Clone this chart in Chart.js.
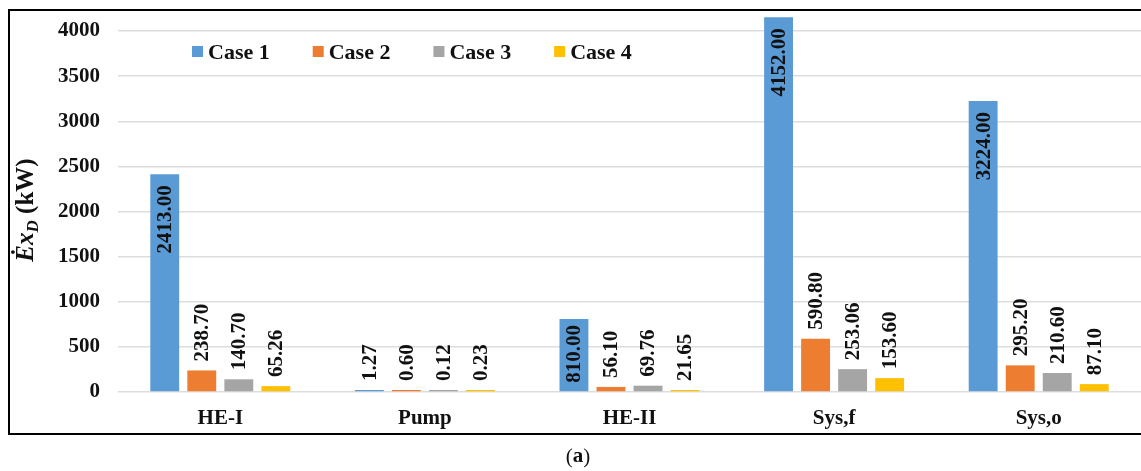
<!DOCTYPE html>
<html>
<head>
    <style>
        body { margin: 0; background: #fff; }
        canvas { display: block; }
    </style>
    <script src="https://cdn.jsdelivr.net/npm/chart.js"></script>
</head>
<body>
    <canvas id="exChart" width="1141" height="471"></canvas>

    <script>
        // data
        const categories = ['HE-I', 'Pump', 'HE-II', 'Sys,f', 'Sys,o'];
        const seriesNames = ['Case 1', 'Case 2', 'Case 3', 'Case 4'];
        const case1 = [2413.00, 1.27, 810.00, 4152.00, 3224.00];
        const case2 = [238.70, 0.60, 56.10, 590.80, 295.20];
        const case3 = [140.70, 0.12, 69.76, 253.06, 210.60];
        const case4 = [65.26, 0.23, 21.65, 153.60, 87.10];
        const yTicks = [0, 500, 1000, 1500, 2000, 2500, 3000, 3500, 4000];

        const colors = ['#5B9BD5', '#ED7D31', '#A5A5A5', '#FFC000'];
        const serif = '"Liberation Serif", "DejaVu Serif", serif';

        // border, y title, legend, value labels, caption
        const decor = {
            id: 'decor',
            afterDatasetsDraw(chart) {
                const ctx = chart.ctx;
                ctx.save();

                // value labels, rotated
                ctx.font = 'bold 21px ' + serif;
                ctx.fillStyle = '#111';
                chart.data.datasets.forEach((ds, di) => {
                    const meta = chart.getDatasetMeta(di);
                    meta.data.forEach((bar, i) => {
                        const txt = ds.data[i].toFixed(2);
                        const w = ctx.measureText(txt).width;
                        const h = bar.base - bar.y;
                        const pad = 9;
                        ctx.save();
                        ctx.translate(bar.x, 0);
                        ctx.rotate(-Math.PI / 2);
                        ctx.textBaseline = 'middle';
                        if (h > w + 8) {
                            ctx.textAlign = 'right';
                            ctx.fillText(txt, -(bar.y + (h > w + 2 * pad ? pad + 2 : 6)), 1);
                        } else {
                            ctx.textAlign = 'left';
                            ctx.fillText(txt, -(bar.y - pad), 1);
                        }
                        ctx.restore();
                    });
                });

                // legend inside the plot
                ctx.font = 'bold 22px ' + serif;
                ctx.textAlign = 'left';
                ctx.textBaseline = 'middle';
                let lx = 192;
                const ly = 52;
                seriesNames.forEach((name, i) => {
                    ctx.fillStyle = colors[i];
                    ctx.fillRect(lx, ly - 6, 11, 11);
                    ctx.fillStyle = '#111';
                    ctx.fillText(name, lx + 16, ly + 1);
                    lx += 16 + ctx.measureText(name).width + 43;
                });

                // y axis title: Ex_D (kW)
                ctx.save();
                ctx.translate(27, 210);
                ctx.rotate(-Math.PI / 2);
                ctx.textBaseline = 'middle';
                ctx.textAlign = 'left';
                const partA = '\u0116x';
                const partB = 'D';
                const partC = ' (kW)';
                ctx.font = 'italic bold 25px ' + serif;
                const wA = ctx.measureText(partA).width;
                ctx.font = 'italic bold 17px ' + serif;
                const wB = ctx.measureText(partB).width;
                ctx.font = 'bold 25px ' + serif;
                const wC = ctx.measureText(partC).width;
                let tx = -(wA + wB + wC) / 2;
                ctx.fillStyle = '#111';
                ctx.font = 'italic bold 25px ' + serif;
                ctx.fillText(partA, tx, 0);
                tx += wA;
                ctx.font = 'italic bold 17px ' + serif;
                ctx.fillText(partB, tx, 7);
                tx += wB;
                ctx.font = 'bold 25px ' + serif;
                ctx.fillText(partC, tx, 0);
                ctx.restore();

                // frame (right side runs off the page)
                ctx.strokeStyle = '#000';
                ctx.lineWidth = 2;
                ctx.strokeRect(9, 10, 1200, 424);

                // caption (a)
                ctx.fillStyle = '#111';
                ctx.textBaseline = 'middle';
                ctx.textAlign = 'left';
                ctx.font = '21px ' + serif;
                const p1 = '(', p3 = ')';
                const w1 = ctx.measureText(p1).width;
                ctx.font = 'bold 21px ' + serif;
                const w2 = ctx.measureText('a').width;
                ctx.font = '21px ' + serif;
                const w3 = ctx.measureText(p3).width;
                let cx = 578 - (w1 + w2 + w3) / 2;
                ctx.fillText(p1, cx, 457);
                ctx.font = 'bold 21px ' + serif;
                ctx.fillText('a', cx + w1, 457);
                ctx.font = '21px ' + serif;
                ctx.fillText(p3, cx + w1 + w2, 457);

                ctx.restore();
            }
        };

        const seriesData = [case1, case2, case3, case4];

        new Chart(document.getElementById('exChart').getContext('2d'), {
            type: 'bar',
            data: {
                labels: categories,
                datasets: seriesNames.map((name, i) => ({
                    label: name,
                    data: seriesData[i],
                    backgroundColor: colors[i],
                    borderWidth: 0,
                    minBarLength: 2,
                    categoryPercentage: 0.724,
                    barPercentage: 0.78
                }))
            },
            options: {
                responsive: false,
                animation: false,
                layout: { padding: { left: 8, top: 13, right: 0, bottom: 36 } },
                plugins: {
                    legend: { display: false },
                    tooltip: { enabled: false }
                },
                scales: {
                    x: {
                        grid: { display: false, drawTicks: false },
                        border: { display: false },
                        ticks: {
                            padding: 14,
                            color: '#111',
                            font: { family: serif, size: 21, weight: 'bold' }
                        },
                        afterFit(scale) {
                            scale.height = 43;
                            scale.paddingLeft = 0;
                            scale.paddingRight = 0;
                        }
                    },
                    y: {
                        min: 0,
                        max: 4200,
                        grid: { color: '#DDDDDD', lineWidth: 1.5, drawTicks: false },
                        border: { display: false },
                        ticks: {
                            padding: 18,
                            color: '#111',
                            font: { family: serif, size: 21, weight: 'bold' },
                            callback: v => String(v)
                        },
                        afterBuildTicks(scale) {
                            scale.ticks = yTicks.map(v => ({ value: v }));
                        },
                        afterFit(scale) {
                            scale.width = 110;
                            scale.paddingTop = 0;
                            scale.paddingBottom = 0;
                        }
                    }
                }
            },
            plugins: [decor]
        });
    </script>
</body>
</html>
